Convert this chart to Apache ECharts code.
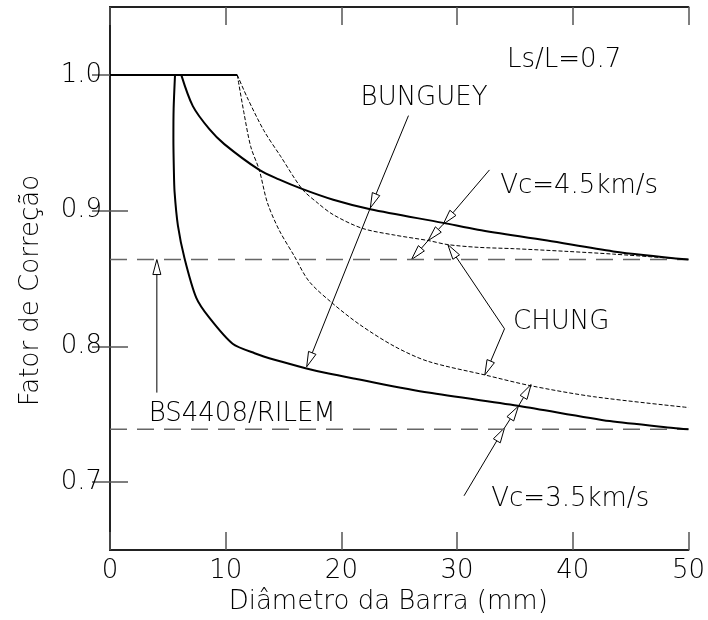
<!DOCTYPE html>
<html><head><meta charset="utf-8">
<script src="https://cdn.jsdelivr.net/npm/echarts@6/dist/echarts.min.js"></script>
<style>html,body{margin:0;padding:0;background:#fff}#c{width:708px;height:620px}</style>
</head><body><div id="c"></div>
<script>
// ---- data ----
const xTicks = [0, 10, 20, 30, 40, 50];
const yTickValues = [0.7, 0.8, 0.9, 1.0];

const plateau = [[0, 1.0], [11, 1.0]];
const vc35Solid = [[5.62,1.0],[5.5,0.975],[5.48,0.953],[5.52,0.93],[5.58,0.914],[5.87,0.889],[6.44,0.865],[7.45,0.836],[8.6,0.821],[10.6,0.802],[12.5,0.795],[14.3,0.790],[16.9,0.784],[18.9,0.780],[21.3,0.776],[27.5,0.766],[35.5,0.756],[43.2,0.745],[48.7,0.740],[50,0.739]];
const vc45Solid = [[6.16,1.0],[7.16,0.977],[8.59,0.960],[9.88,0.949],[12.9,0.930],[14.6,0.923],[16.6,0.916],[19.3,0.908],[22.5,0.901],[28.8,0.891],[31.8,0.886],[37.8,0.878],[43.5,0.870],[50,0.864]];
const chung45 = [[11,1.0],[11.88,0.983],[13.3,0.959],[14.75,0.940],[16.6,0.916],[17.9,0.906],[19.3,0.897],[21.8,0.887],[24.6,0.882],[27.5,0.878],[29.2,0.875],[31.8,0.873],[34.9,0.872],[39.5,0.870],[43.5,0.868],[50,0.864]];
const chung35 = [[11,1.0],[11.6,0.971],[12.17,0.947],[12.9,0.930],[13.6,0.906],[14.6,0.886],[15.9,0.867],[17.2,0.848],[19.2,0.832],[21.6,0.816],[24.6,0.800],[27.5,0.789],[32.4,0.779],[36.4,0.771],[41.8,0.763],[50,0.755]];
const bsLow = [[0, 0.739], [50, 0.739]];
const bsHigh = [[0, 0.864], [50, 0.864]];

// arrows: [x1, y1, x2, y2], head at (x2, y2)
const arrows = [
  [4.05, 0.766, 4.05, 0.864],
  [25.8, 0.970, 22.5, 0.902], [22.5, 0.902, 17.0, 0.785],
  [32.8, 0.930, 28.8, 0.890], [28.8, 0.890, 27.5, 0.878], [27.5, 0.878, 26.06, 0.864],
  [34.1, 0.813, 29.2, 0.875], [34.1, 0.813, 32.4, 0.779],
  [30.6, 0.690, 34.1, 0.740], [34.1, 0.740, 35.3, 0.756], [35.3, 0.756, 36.4, 0.772]
];

const noteTexts = ['Ls/L=0.7', 'BUNGUEY', 'Vc=4.5km/s', 'CHUNG', 'Vc=3.5km/s', 'BS4408/RILEM'];
const noteX = [39.26, 27.15, 40.55, 39.0, 39.78, 11.43];
const noteY = [1.0107, 0.983, 0.918, 0.818, 0.6875, 0.750];

// ---- chart ----
const FONT = 'DejaVu Sans';
const TXT = '#000';
const chart = echarts.init(document.getElementById('c'), null, {renderer: 'canvas'});
const axisLine = {show: true, lineStyle: {color: '#222', width: 2}};
const tick = {show: true, inside: true, length: 18, lineStyle: {color: '#555', width: 1.5}};

const option = {
  animation: false,
  backgroundColor: '#fff',
  grid: {left: 110, right: 16, top: 7, bottom: 68},
  xAxis: [
    {type: 'value', min: 0, max: 50, interval: 10, position: 'bottom',
     axisLine, axisTick: tick, splitLine: {show: false},
     axisLabel: {fontSize: 26, fontFamily: FONT, fontWeight: 200, color: TXT, margin: 8},
     name: 'Diâmetro da Barra (mm)', nameLocation: 'middle', nameGap: 38,
     nameTextStyle: {fontSize: 26, fontFamily: FONT, fontWeight: 200, color: TXT, padding: [0, 22, 0, 0]}},
    {type: 'value', min: 0, max: 50, interval: 10, position: 'top',
     axisLine, axisTick: tick, splitLine: {show: false}, axisLabel: {show: false}}
  ],
  yAxis: [
    {type: 'value', min: 0.65, max: 1.05, position: 'left',
     axisLine, splitLine: {show: false},
     axisTick: Object.assign({}, tick, {customValues: yTickValues}),
     axisLabel: {fontSize: 26, fontFamily: FONT, fontWeight: 200, color: TXT, margin: 8,
                 customValues: yTickValues, formatter: v => v.toFixed(1)},
     name: 'Fator de Correção', nameLocation: 'middle', nameGap: 66, nameRotate: 90,
     nameTextStyle: {fontSize: 26, fontFamily: FONT, fontWeight: 200, color: TXT, padding: [0, 24, 0, 0]}},
    {type: 'value', min: 0.65, max: 1.05, position: 'right',
     axisLine, splitLine: {show: false},
     axisTick: Object.assign({}, tick, {customValues: yTickValues}),
     axisLabel: {show: false}}
  ],
  series: [
    {type: 'line', data: bsHigh, showSymbol: false, silent: true,
     lineStyle: {color: '#666', width: 1.5, type: [17, 10]}},
    {type: 'line', data: bsLow, showSymbol: false, silent: true,
     lineStyle: {color: '#666', width: 1.5, type: [17, 10]}},
    {type: 'line', data: chung45, showSymbol: false, smooth: 0.3,
     lineStyle: {color: '#000', width: 1, type: [4, 2]}},
    {type: 'line', data: chung35, showSymbol: false, smooth: 0.3,
     lineStyle: {color: '#000', width: 1, type: [4, 2]}},
    {type: 'line', data: plateau, showSymbol: false,
     lineStyle: {color: '#000', width: 2}},
    {type: 'line', data: vc35Solid, showSymbol: false, smooth: 0.25,
     lineStyle: {color: '#000', width: 2}},
    {type: 'line', data: vc45Solid, showSymbol: false, smooth: 0.3,
     lineStyle: {color: '#000', width: 2}},
    {type: 'custom', data: arrows, clip: false, silent: true,
     encode: {x: [0, 2], y: [1, 3]},
     renderItem: function (params, api) {
       const p1 = api.coord([api.value(0), api.value(1)]);
       const p2 = api.coord([api.value(2), api.value(3)]);
       const dx = p2[0] - p1[0], dy = p2[1] - p1[1];
       const len = Math.hypot(dx, dy) || 1;
       const ux = dx / len, uy = dy / len;
       const L = 15, W = 4;
       const bx = p2[0] - ux * L, by = p2[1] - uy * L;
       return {type: 'group', children: [
         {type: 'line', shape: {x1: p1[0], y1: p1[1], x2: bx, y2: by},
          style: {stroke: '#000', lineWidth: 1}},
         {type: 'polygon', shape: {points: [p2, [bx - uy * W, by + ux * W], [bx + uy * W, by - ux * W]]},
          style: {fill: '#fff', stroke: '#000', lineWidth: 1}}
       ]};
     }},
    {type: 'custom', clip: false, silent: true,
     data: noteTexts.map((t, i) => [noteX[i], noteY[i], t]),
     dimensions: ['x', 'y', 't'],
     encode: {x: 0, y: 1},
     renderItem: function (params, api) {
       const p = api.coord([api.value(0), api.value(1)]);
       return {type: 'text', x: p[0], y: p[1],
         style: {text: noteTexts[params.dataIndex], fontSize: 26, fontFamily: FONT, fontWeight: 200,
                 fill: TXT, align: 'center', verticalAlign: 'middle'}};
     }}
  ]
};
chart.setOption(option);
</script>
</body></html>
